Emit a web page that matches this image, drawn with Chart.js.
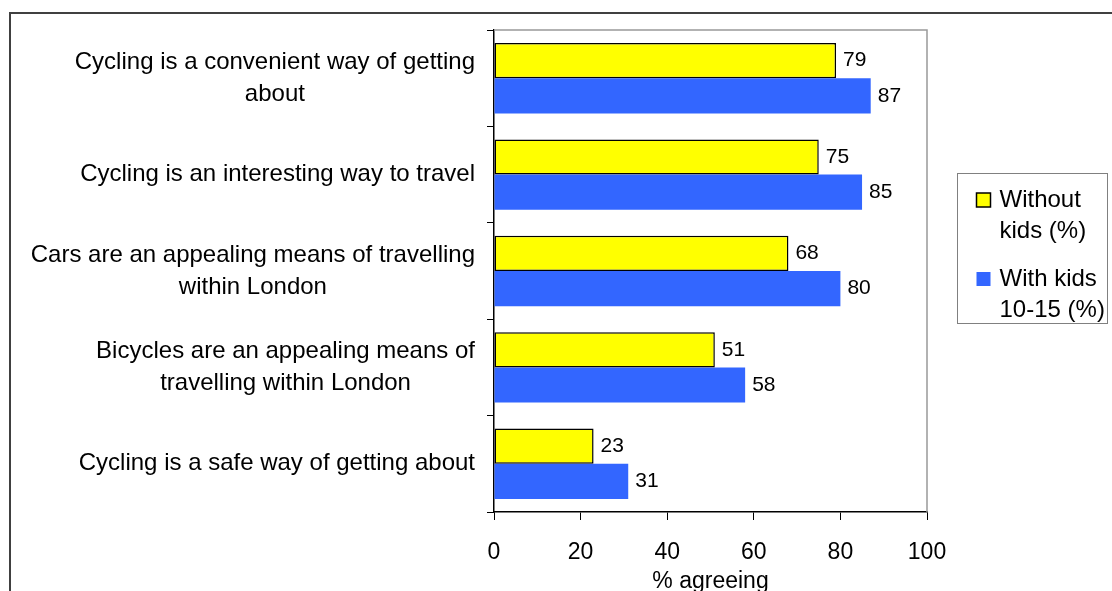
<!DOCTYPE html>
<html><head><meta charset="utf-8">
<script src="https://cdn.jsdelivr.net/npm/chart.js@4.4.1/dist/chart.umd.min.js"></script>
<style>
html,body{margin:0;padding:0;background:#fff;overflow:hidden;}
#wrap{position:absolute;left:0;top:0;width:1112px;height:591px;overflow:hidden;}
#frame{position:absolute;left:9px;top:12px;width:1200px;height:700px;border:2px solid #404040;box-sizing:border-box;pointer-events:none;}
canvas{position:absolute;left:0;top:0;}
</style></head>
<body>
<div id="wrap"><canvas id="c" width="1112" height="591"></canvas><div id="frame"></div></div>
<script>
// ---- data ----
const categories = [
  ["Cycling is a convenient way of getting", "about"],
  ["Cycling is an interesting way to travel"],
  ["Cars are an appealing means of travelling", "within London"],
  ["Bicycles are an appealing means of", "travelling within London"],
  ["Cycling is a safe way of getting about"]
];
const seriesNames = [["Without", "kids (%)"], ["With kids", "10-15 (%)"]];
const withoutKids = [79, 75, 68, 51, 23];
const withKids = [87, 85, 80, 58, 31];
const xTicks = [0, 20, 40, 60, 80, 100];
const xTitle = "% agreeing";

const FONT = "'Liberation Sans', Arial, sans-serif";

const framePlugin = {
  id: 'frame',
  beforeDatasetsDraw(chart) {
    const {ctx, chartArea: a} = chart;
    ctx.save();
    ctx.strokeStyle = '#999999';
    ctx.lineWidth = 1.5;
    ctx.beginPath();
    ctx.moveTo(a.left, a.top);
    ctx.lineTo(a.right, a.top);
    ctx.lineTo(a.right, a.bottom);
    ctx.stroke();
    ctx.restore();
  }
};

const valueLabels = {
  id: 'valueLabels',
  afterDatasetsDraw(chart) {
    const ctx = chart.ctx;
    ctx.save();
    ctx.font = "21px " + FONT;
    ctx.fillStyle = '#000';
    ctx.textAlign = 'left';
    ctx.textBaseline = 'middle';
    chart.data.datasets.forEach((ds, i) => {
      chart.getDatasetMeta(i).data.forEach((el, j) => {
        ctx.fillText(String(ds.data[j]), el.x + 7, el.y);
      });
    });
    ctx.restore();
  }
};

const categoryLabels = {
  id: 'categoryLabels',
  afterDraw(chart) {
    const ctx = chart.ctx;
    const s = chart.scales.y;
    const lh = 32;
    const rightEdge = s.right - 7 - 12;
    ctx.save();
    ctx.font = "24px " + FONT;
    ctx.fillStyle = '#000';
    ctx.textAlign = 'center';
    ctx.textBaseline = 'middle';
    chart.data.labels.forEach((lines, i) => {
      const y0 = s.getPixelForTick(i);
      const widest = Math.max(...lines.map(l => ctx.measureText(l).width));
      const cx = rightEdge - widest / 2;
      lines.forEach((l, k) => {
        ctx.fillText(l, cx, y0 + (k - (lines.length - 1) / 2) * lh);
      });
    });
    ctx.restore();
  }
};

const boxLegend = {
  id: 'boxLegend',
  afterDraw(chart) {
    const ctx = chart.ctx;
    const a = chart.chartArea;
    const bx = a.right + 30.5, by = 173.5, bw = 150, bh = 150;
    ctx.save();
    ctx.strokeStyle = '#808080';
    ctx.lineWidth = 1;
    ctx.strokeRect(bx, by, bw, bh);
    ctx.font = "24px " + FONT;
    ctx.textBaseline = 'middle';
    ctx.textAlign = 'left';
    const firstY = [200, 279];
    chart.data.datasets.forEach((ds, i) => {
      const y = firstY[i];
      ctx.fillStyle = ds.backgroundColor;
      ctx.fillRect(bx + 19, y - 7, 14, 14);
      if (ds.borderWidth) {
        ctx.strokeStyle = '#000';
        ctx.lineWidth = 1.5;
        ctx.strokeRect(bx + 19, y - 7, 14, 14);
      }
      ctx.fillStyle = '#000';
      ds.label.forEach((t, k) => ctx.fillText(t, bx + 42, y + k * 31));
    });
    ctx.restore();
  }
};

const chart = new Chart(document.getElementById('c'), {
  type: 'bar',
  data: {
    labels: categories,
    datasets: [
      {label: seriesNames[0], data: withoutKids, backgroundColor: '#FFFF00', borderColor: '#000000', borderWidth: 1.5, borderSkipped: false},
      {label: seriesNames[1], data: withKids, backgroundColor: '#3366FF', borderWidth: 0}
    ]
  },
  options: {
    indexAxis: 'y',
    responsive: false,
    animation: false,
    devicePixelRatio: 1,
    layout: {padding: {top: 30, right: 185, left: 0, bottom: 0}},
    datasets: {bar: {categoryPercentage: 0.73, barPercentage: 1.0}},
    plugins: {legend: {display: false}, tooltip: {enabled: false}},
    scales: {
      x: {
        min: 0, max: 100,
        afterBuildTicks(s) { s.ticks = xTicks.map(v => ({value: v})); },
        ticks: {color: '#000', font: {family: FONT, size: 23}, padding: 19, maxRotation: 0},
        grid: {drawOnChartArea: false, drawTicks: true, tickLength: 8, color: '#000'},
        border: {color: '#000', width: 1.5},
        title: {display: true, text: xTitle, color: '#000', font: {family: FONT, size: 23, lineHeight: 1}, padding: {top: 0, bottom: -2}},
        afterFit(s) { s.height = 79; }
      },
      y: {
        ticks: {display: false},
        grid: {offset: true, drawOnChartArea: false, drawTicks: true, tickLength: 7, color: '#000'},
        border: {color: '#000', width: 1.5},
        afterFit(s) { s.width = 494; }
      }
    }
  },
  plugins: [framePlugin, valueLabels, categoryLabels, boxLegend]
});
</script>
</body></html>
